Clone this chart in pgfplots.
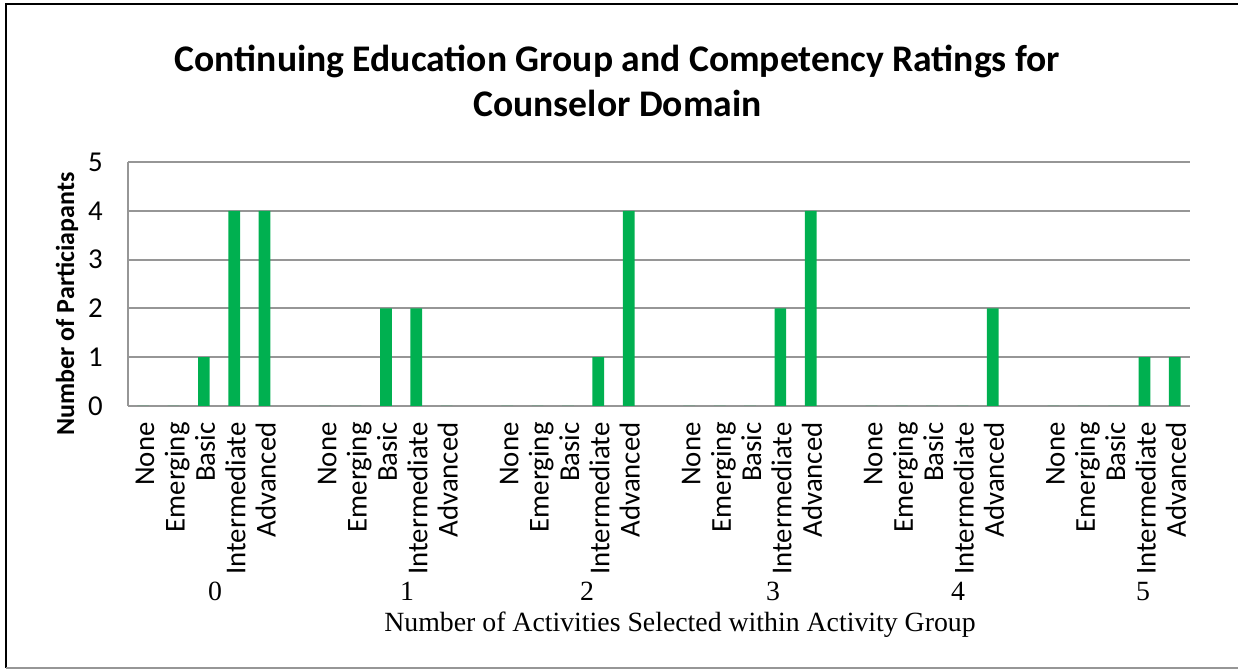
\documentclass[border=0pt]{standalone}
\usepackage{fontspec}
\setmainfont{Liberation Serif}
\newfontfamily\calfont{Carlito}
\usepackage{pgfplots}
\pgfplotsset{compat=1.18}
\definecolor{bargreen}{RGB}{0,176,80}
\definecolor{gridgray}{RGB}{150,150,150}
\begin{document}
\begin{tikzpicture}
\useasboundingbox (0,0) rectangle (619pt,334.5pt);
% frame
\draw[black, line width=1pt] (3pt,0.5pt) -- (3pt,332.5pt) -- (620pt,332.5pt);
\draw[gridgray, line width=1pt] (3pt,0.5pt) -- (620pt,0.5pt);
\begin{axis}[
  at={(64pt,131.5pt)}, anchor=south west,
  scale only axis, width=531pt, height=122pt,
  xmin=-0.5, xmax=34.5, ymin=0, ymax=5,
  axis x line*=bottom, axis y line*=left,
  axis line style={gridgray, line width=1pt},
  ytick={0,1,2,3,4,5},
  ymajorgrids, grid style={gridgray, line width=1pt},
  major tick length=0pt,
  /pgf/number format/assume math mode=true,
  yticklabel style={font=\calfont\fontsize{14.4}{17}\selectfont, anchor=east, inner sep=0pt, xshift=-12.5pt},
  xtick={0.2,1.2,2.2,3.2,4.2,6.2,7.2,8.2,9.2,10.2,12.2,13.2,14.2,15.2,16.2,18.2,19.2,20.2,21.2,22.2,24.2,25.2,26.2,27.2,28.2,30.2,31.2,32.2,33.2,34.2},
  xticklabels={None,Emerging,Basic,Intermediate,Advanced,None,Emerging,Basic,Intermediate,Advanced,None,Emerging,Basic,Intermediate,Advanced,None,Emerging,Basic,Intermediate,Advanced,None,Emerging,Basic,Intermediate,Advanced,None,Emerging,Basic,Intermediate,Advanced},
  xticklabel style={font=\calfont\fontsize{14.4}{17}\selectfont, rotate=90, anchor=east, inner sep=0pt, text height=0.7em, text depth=0.2em},
  xticklabel shift=8pt,
  clip=false,
]
\addplot[ybar, bar width=5.85pt, fill=bargreen, draw=none] coordinates {
 (0,0) (1,0) (2,1) (3,4) (4,4)
 (6,0) (7,0) (8,2) (9,2) (10,0)
 (12,0) (13,0) (14,0) (15,1) (16,4)
 (18,0) (19,0) (20,0) (21,2) (22,4)
 (24,0) (25,0) (26,0) (27,0) (28,2)
 (30,0) (31,0) (32,0) (33,1) (34,1)
};
\end{axis}
% title
\node[anchor=base, font=\calfont\bfseries\fontsize{18.8}{22}\selectfont] at (308.75pt,298.5pt) {Continuing Education Group and Competency Ratings for};
\node[anchor=base, font=\calfont\bfseries\fontsize{18.8}{22}\selectfont] at (308.75pt,276pt) {Counselor Domain};
% y label
\node[rotate=90, font=\calfont\bfseries\fontsize{13}{16}\selectfont] at (33.5pt,182.5pt) {Number of Particiapants};
% group labels
\foreach \g/\xx in {0/107.5,1/203.5,2/293.5,3/386.5,4/479,5/571.5}{
  \node[anchor=base, font=\fontsize{13.9}{16}\selectfont] at (\xx pt,34pt) {\g};
}
\node[anchor=base, font=\fontsize{13.9}{16}\selectfont] at (340pt,18.5pt) {Number of Activities Selected within Activity Group};
\end{tikzpicture}
\end{document}
